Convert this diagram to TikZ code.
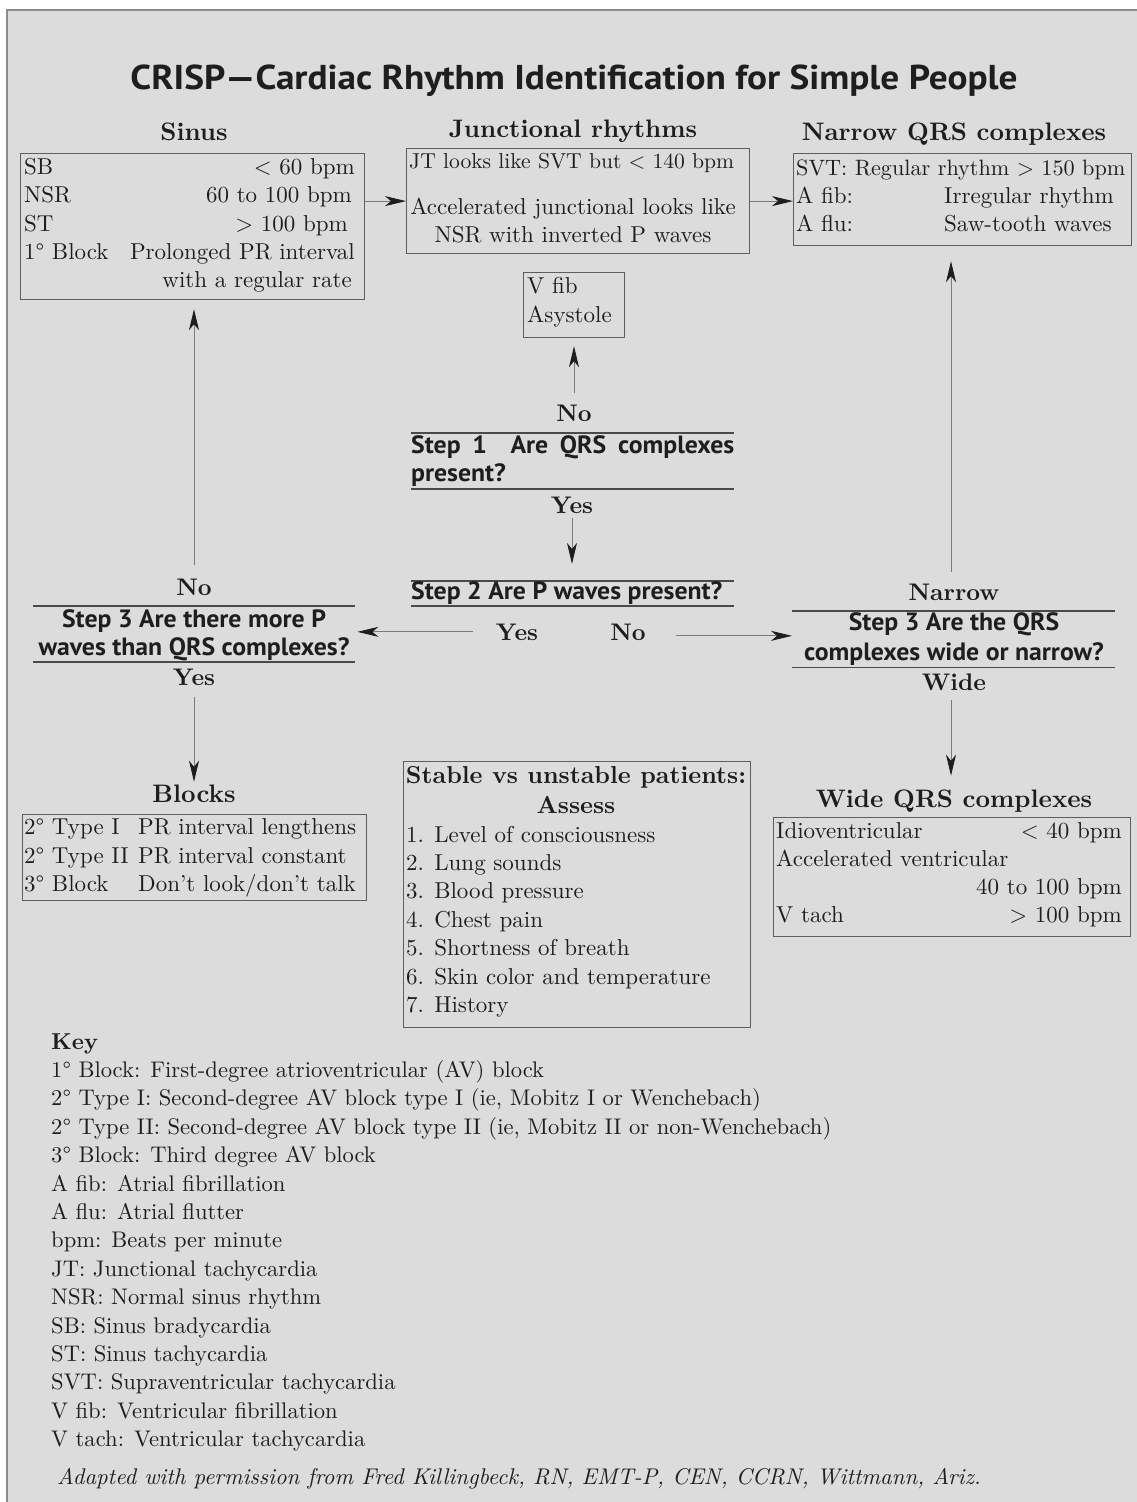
\documentclass[tikz,border=0pt]{standalone}
\usepackage{fontspec}
\setmainfont{lmroman10}[Extension=.otf, UprightFont=*-regular, BoldFont=*-bold, ItalicFont=*-italic, BoldItalicFont=*-bolditalic]
\newfontfamily\stepfont[FakeStretch=1.03]{PT Sans}
\newfontfamily\titlefont[FakeStretch=1.08]{PT Sans}
\usetikzlibrary{arrows.meta}
\definecolor{bgc}{HTML}{DCDCDC}
\definecolor{ink}{HTML}{1E1E1E}
\definecolor{boxc}{HTML}{5E5E5E}
\definecolor{conc}{HTML}{7C7C7C}
\definecolor{rulec}{HTML}{4A4A4A}
\definecolor{framec}{HTML}{8C8C8C}
\begin{document}
\begin{tikzpicture}[x=1pt,y=-1pt,
  txt/.style={inner sep=0pt, text=ink, font=\fontsize{23}{28.4}\selectfont},
  hd/.style={inner sep=0pt, text=ink, font=\fontsize{25.3}{30}\selectfont\bfseries},
  lbl/.style={inner sep=0pt, text=ink, font=\fontsize{24}{28}\selectfont\bfseries},
  stp/.style={inner sep=0pt, text=ink, font=\stepfont\bfseries\fontsize{25}{30}\selectfont},
  ttl/.style={inner sep=0pt, text=ink, font=\titlefont\bfseries\fontsize{34.5}{40}\selectfont},
  box/.style={draw=boxc, line width=1.2pt, inner sep=0pt, anchor=north west},
  conn/.style={draw=conc, line width=0.9pt, -{Stealth[length=21pt,width=10pt,inset=6pt,color=ink]}},
  srule/.style={draw=rulec, line width=1.6pt},
]
\useasboundingbox (0,0) rectangle (1137,1502);
\fill[white] (0,0) rectangle (1137,1502);
\fill[bgc] (7,10) rectangle (1137,1502);
\draw[framec, line width=2pt] (7,1502) -- (7,10) -- (1137,10);

% title
\node[ttl, anchor=base] (title) at (574,89) {CRISP—Cardiac Rhythm Identification for Simple People};

% headings
\node[hd, anchor=base] (hsinus) at (194,140) {Sinus};
\node[hd, anchor=base] (hjunct) at (573,137) {Junctional rhythms};
\node[hd, anchor=base] (hnarrow) at (954,140) {Narrow QRS complexes};
\node[hd, anchor=base] (hblocks) at (194,802) {Blocks};
\node[hd, anchor=base] (hwide) at (954,807) {Wide QRS complexes};

% boxes
\node[box, minimum width=344pt, minimum height=146pt] (sinusbox) at (20,153) {};
\node[box, minimum width=343pt, minimum height=105pt] (junctbox) at (406,148) {};
\node[box, minimum width=338pt, minimum height=92pt] (narrowbox) at (793,153) {};
\node[box, minimum width=101pt, minimum height=65pt] (vfibbox) at (523,272) {};
\node[box, minimum width=344pt, minimum height=86pt] (blocksbox) at (22,814) {};
\node[box, minimum width=357pt, minimum height=119pt] (widebox) at (773,817) {};
\node[box, minimum width=347pt, minimum height=266pt] (stablebox) at (403,761) {};

% sinus box text
\node[txt, anchor=base west] (sb) at (24,174) {SB};
\node[txt, anchor=base east] (sbr) at (355,174) {< 60 bpm};
\node[txt, anchor=base west] (nsr) at (24,202.5) {NSR};
\node[txt, anchor=base east] (nsrr) at (352,202.5) {60 to 100 bpm};
\node[txt, anchor=base west] (st) at (24,231) {ST};
\node[txt, anchor=base east] (str) at (348,231) {> 100 bpm};
\node[txt, anchor=base west] (fb) at (24,259) {1° Block};
\node[txt, anchor=base east] (fbr) at (355,259) {Prolonged PR interval};
\node[txt, anchor=base east] (fbr2) at (352,287.5) {with a regular rate};

% junctional box text
\node[txt, anchor=base west, font=\fontsize{21.6}{28.4}\selectfont] (jt) at (409,168.5) {JT looks like SVT but < 140 bpm};
\node[txt, anchor=base] (acc1) at (573,214) {Accelerated junctional looks like};
\node[txt, anchor=base] (acc2) at (573,242) {NSR with inverted P waves};

% narrow box text
\node[txt, anchor=base west, font=\fontsize{22.2}{28.4}\selectfont] (svt) at (796,175) {SVT: Regular rhythm > 150 bpm};
\node[txt, anchor=base west] (afib) at (796,203) {A fib:};
\node[txt, anchor=base west] (afibr) at (944,203) {Irregular rhythm};
\node[txt, anchor=base west] (aflu) at (796,231) {A flu:};
\node[txt, anchor=base west] (aflur) at (944,231) {Saw-tooth waves};

% vfib box
\node[txt, anchor=base west] (vfib) at (527,293.5) {V fib};
\node[txt, anchor=base west] (asys) at (527,322) {Asystole};

% blocks box
\node[txt, anchor=base west] (b1) at (24,834) {2° Type I};
\node[txt, anchor=base west] (b1r) at (138,834) {PR interval lengthens};
\node[txt, anchor=base west] (b2) at (24,863) {2° Type II};
\node[txt, anchor=base west] (b2r) at (138,863) {PR interval constant};
\node[txt, anchor=base west] (b3) at (24,891) {3° Block};
\node[txt, anchor=base west] (b3r) at (138,891) {Don’t look/don’t talk};

% wide box
\node[txt, anchor=base west] (idio) at (776,838) {Idioventricular};
\node[txt, anchor=base east] (idior) at (1122,838) {< 40 bpm};
\node[txt, anchor=base west] (accv) at (776,866) {Accelerated ventricular};
\node[txt, anchor=base east] (accvr) at (1122,894) {40 to 100 bpm};
\node[txt, anchor=base west] (vtach) at (776,922) {V tach};
\node[txt, anchor=base east] (vtachr) at (1122,922) {> 100 bpm};

% stable box
\node[hd, anchor=base, font=\fontsize{24.5}{30}\selectfont\bfseries] (stab1) at (576,783) {Stable vs unstable patients:};
\node[hd, anchor=base, font=\fontsize{24.5}{30}\selectfont\bfseries] (stab2) at (576,813) {Assess};
\foreach \t [count=\i from 0] in {{1. Level of consciousness},{2. Lung sounds},{3. Blood pressure},{4. Chest pain},{5. Shortness of breath},{6. Skin color and temperature},{7. History}}
  \node[txt, anchor=base west] (stit\i) at (406,842+28.4*\i) {\t};

% step 1
\draw[srule] (411,433) -- (734,433);
\draw[srule] (411,489) -- (734,489);
\node[lbl, anchor=base] (no1) at (574,421.7) {No};
\node[stp, anchor=base west] (s1a) at (411,453.3) {\makebox[323pt][s]{Step 1\hspace{12pt} Are QRS complexes}};
\node[stp, anchor=base west] (s1b) at (411,481.7) {present?};
\node[lbl, anchor=base] (yes1) at (572,513.3) {Yes};

% step 2
\draw[srule] (411,580.7) -- (734,580.7);
\draw[srule] (411,606) -- (734,606);
\node[stp, anchor=base west] (step2) at (411,599) {Step 2 Are P waves present?};
\node[lbl, anchor=base] (yes2) at (517,640) {Yes};
\node[lbl, anchor=base] (no2) at (628,640) {No};

% step 3 left
\node[inner sep=0pt, minimum width=322pt, minimum height=56pt, anchor=north west] (step3L) at (33,605.7) {};
\draw[srule] (step3L.north west) -- (step3L.north east);
\draw[srule] (step3L.south west) -- (step3L.south east);
\node[lbl, anchor=base] (noL) at (194,595) {No};
\node[stp, anchor=base] (s3La) at (194,627) {Step 3 Are there more P};
\node[stp, anchor=base] (s3Lb) at (194,655) {waves than QRS complexes?};
\node[lbl, anchor=base] (yesL) at (194,685) {Yes};

% step 3 right
\node[inner sep=0pt, minimum width=323pt, minimum height=56.3pt, anchor=north west] (step3R) at (792,610.7) {};
\draw[srule] (step3R.north west) -- (step3R.north east);
\draw[srule] (step3R.south west) -- (step3R.south east);
\node[lbl, anchor=base] (narrowl) at (954,600) {Narrow};
\node[stp, anchor=base] (s3Ra) at (954,630) {Step 3 Are the QRS};
\node[stp, anchor=base] (s3Rb) at (954,660) {complexes wide or narrow?};
\node[lbl, anchor=base] (widel) at (954,690) {Wide};

% key
\node[txt, anchor=base west, font=\fontsize{23}{28.4}\selectfont\bfseries] (key) at (51,1049) {Key};
\foreach \t [count=\i from 0] in {{1° Block: First-degree atrioventricular (AV) block},{2° Type I: Second-degree AV block type I (ie, Mobitz I or Wenchebach)},{2° Type II: Second-degree AV block type II (ie, Mobitz II or non-Wenchebach)},{3° Block: Third degree AV block},{A fib: Atrial fibrillation},{A flu: Atrial flutter},{bpm: Beats per minute},{JT: Junctional tachycardia},{NSR: Normal sinus rhythm},{SB: Sinus bradycardia},{ST: Sinus tachycardia},{SVT: Supraventricular tachycardia},{V fib: Ventricular fibrillation},{V tach: Ventricular tachycardia}}
  \node[txt, anchor=base west, font=\fontsize{22.6}{28.4}\selectfont] (key\i) at (51,1077.5+28.4*\i) {\t};
\node[txt, anchor=base west, font=\fontsize{22.7}{28.4}\selectfont\itshape] (credit) at (57,1484.3) {Adapted with permission from Fred Killingbeck, RN, EMT-P, CEN, CCRN, Wittmann, Ariz.};

% connectors
\draw[conn] (sinusbox.east |- junctbox.west) -- (junctbox.west);
\draw[conn] (junctbox.east) -- (junctbox.east -| narrowbox.west);
\draw[conn, shorten <=12pt, shorten >=8pt] (no1.north) -- (no1.north |- vfibbox.south);
\draw[conn, shorten <=4pt, shorten >=17pt] (yes1.south) -- (yes1.south |- step2.north);
\draw[conn, shorten <=23pt, shorten >=2pt] (yes2.west) -- (yes2.west -| step3L.east);
\draw[conn, shorten <=30pt, shorten >=0pt] ([yshift=-4pt]no2.east) -- ([yshift=-4pt]no2.east -| step3R.west);
\draw[conn, shorten <=13.5pt, shorten >=9pt] (noL.north) -- (noL.north |- sinusbox.south);
\draw[conn, shorten <=12pt, shorten >=2.5pt] (yesL.south) -- (yesL.south |- hblocks.north);
\draw[conn, shorten <=11.6pt, shorten >=15pt] ([xshift=-3pt]narrowl.north) -- ([xshift=-3pt]narrowl.north |- narrowbox.south);
\draw[conn, shorten <=10pt, shorten >=13.5pt] ([xshift=-3pt]widel.south) -- ([xshift=-3pt]widel.south |- hwide.north);
\end{tikzpicture}
\end{document}
